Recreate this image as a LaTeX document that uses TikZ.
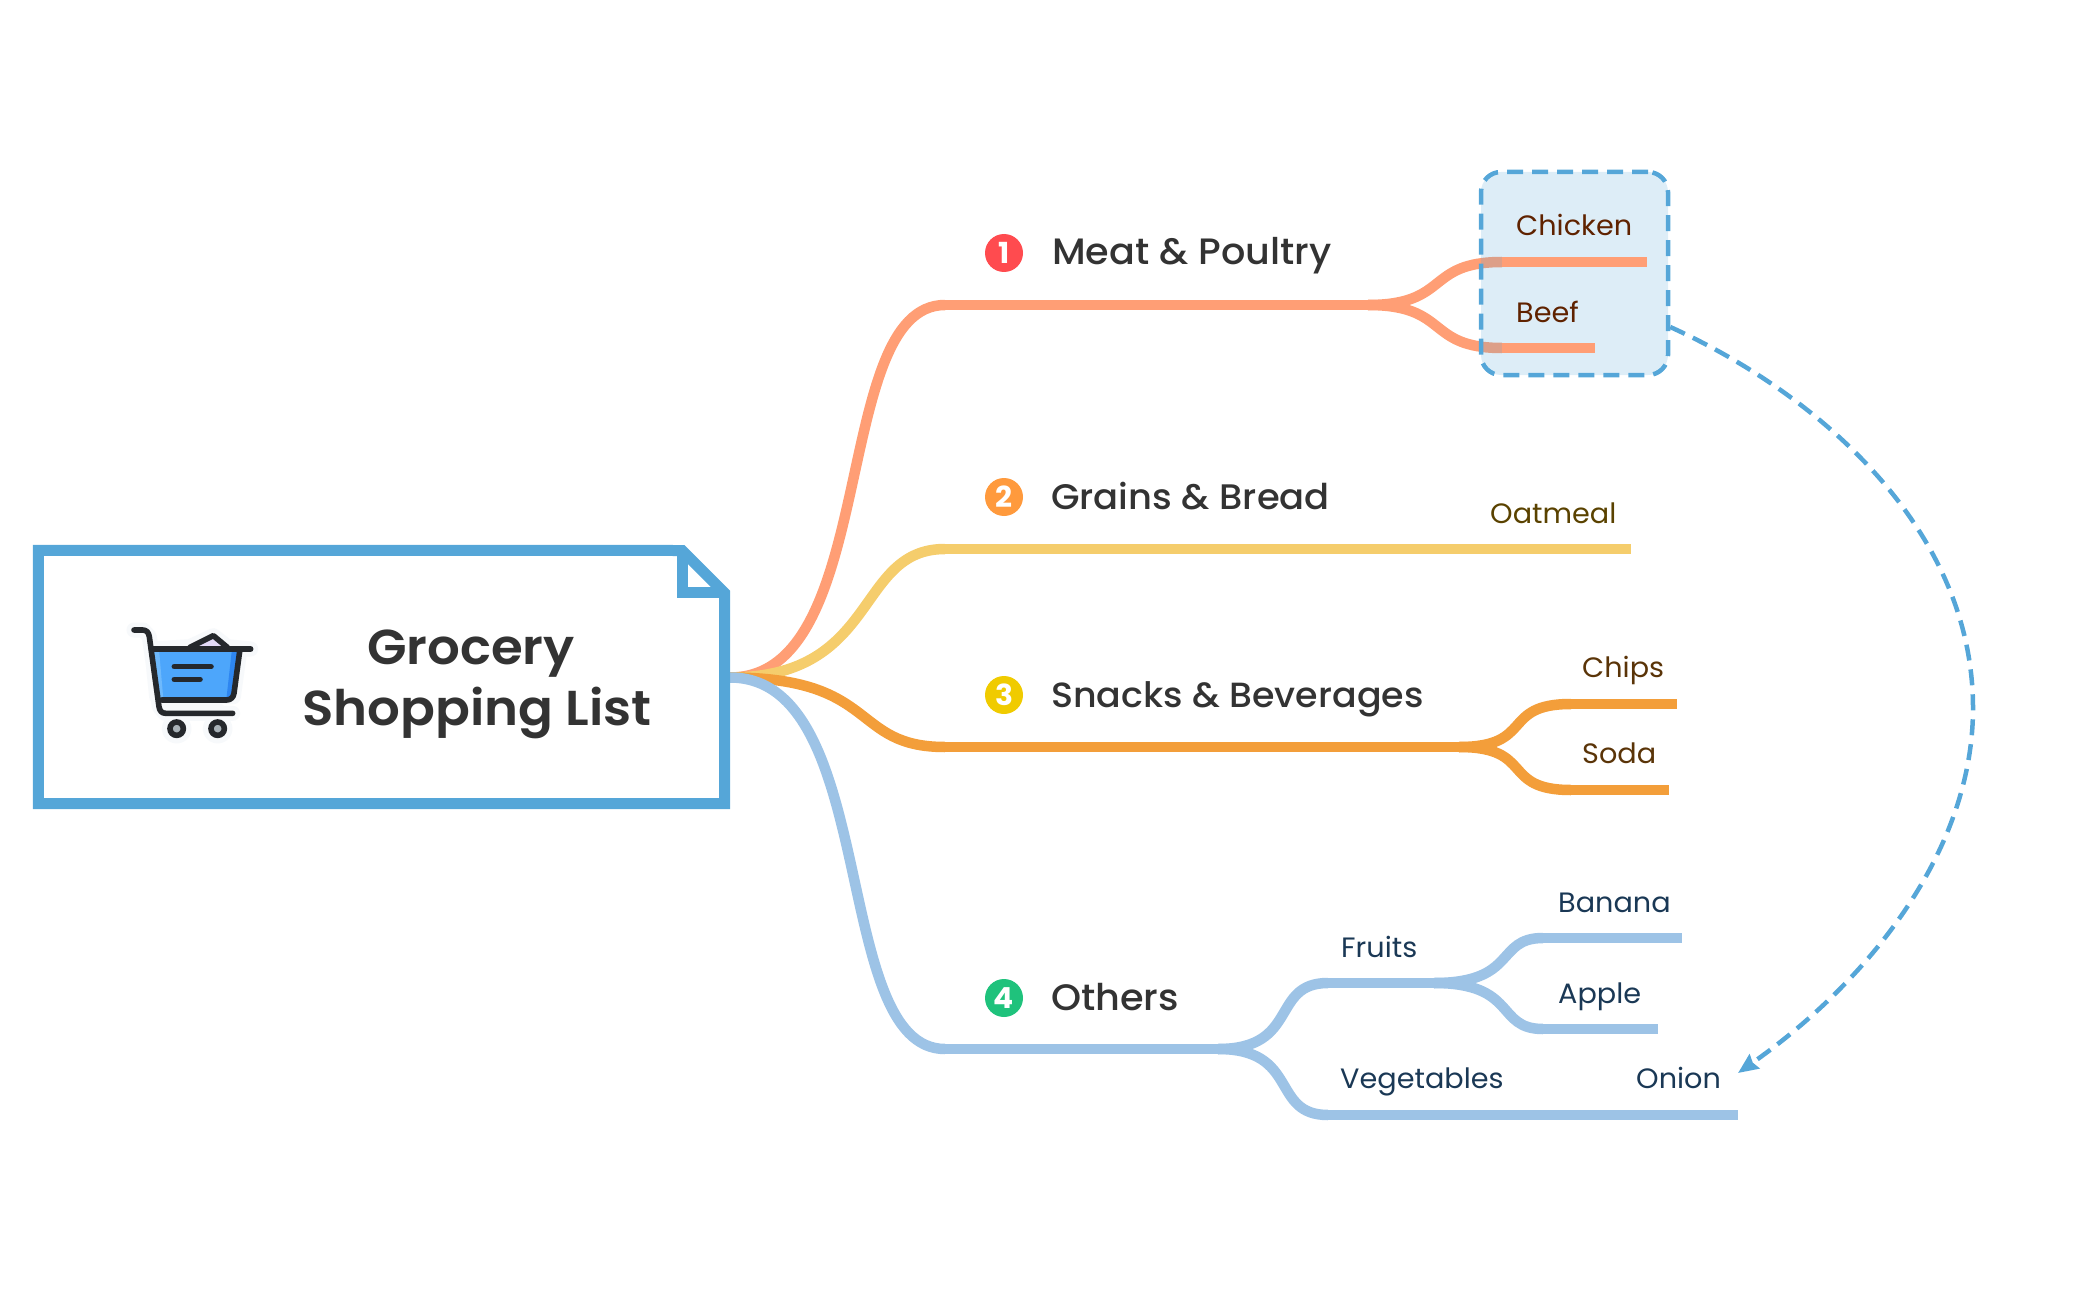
\documentclass[tikz,border=0pt]{standalone}
\usepackage{fontspec}
\setmainfont{Poppins}[FakeStretch=1.025]
\newfontfamily\pmed{Poppins Medium}[FakeStretch=1.04]
\newfontfamily\psemi{Poppins SemiBold}[FakeStretch=1.05]
\usetikzlibrary{arrows.meta}
\definecolor{rootblue}{HTML}{55A6D8}
\definecolor{cmeat}{HTML}{FF9E75}
\definecolor{cgrain}{HTML}{F5CD6C}
\definecolor{csnack}{HTML}{F39E3A}
\definecolor{cother}{HTML}{9DC3E6}
\definecolor{tmain}{HTML}{333333}
\definecolor{tmeat}{HTML}{5F2200}
\definecolor{tgrain}{HTML}{5A4200}
\definecolor{tsnack}{HTML}{5A3408}
\definecolor{tother}{HTML}{1A3855}
\definecolor{cartdark}{HTML}{25282C}
\definecolor{carthalo}{HTML}{F7F9FB}
\tikzset{
  branch/.style={line width=10.5pt,line cap=butt},
  topic/.style={font=\pmed\fontsize{#1}{36}\selectfont,text=tmain,anchor=base west,inner sep=0pt},
  leaf/.style={font=\fontsize{28}{28}\selectfont,anchor=base west,inner sep=0pt},
  title/.style={font=\psemi\fontsize{49}{49}\selectfont,text=tmain,anchor=base,inner sep=0pt},
  badge/.style={circle,minimum size=38pt,inner sep=0pt,text=white,font=\fontsize{29}{29}\selectfont\bfseries},
  cartline/.style={draw=cartdark,line width=5.6pt,line cap=round,line join=round},
}
\begin{document}
\begin{tikzpicture}[x=1pt,y=-1pt]
\useasboundingbox (0,0) rectangle (2097,1300);
\node[minimum width=686pt,minimum height=253pt,inner sep=0pt] (root) at (381.5,677) {};
\coordinate (m1) at (945,305); \coordinate (m2) at (945,549);
\coordinate (m3) at (945,747); \coordinate (m4) at (945,1049);
\coordinate (b1) at (1368,305); \coordinate (b3) at (1459,747);
\coordinate (b4) at (1218,1049);
\coordinate (f1) at (1328,983); \coordinate (f2) at (1328,1115);
\coordinate (fb) at (1434,983);
\coordinate (c1) at (1502,262); \coordinate (c2) at (1502,348);
\coordinate (s1) at (1571,704); \coordinate (s2) at (1571,790);
\coordinate (a1) at (1543,938); \coordinate (a2) at (1543,1029);
\coordinate (start) at (730,677.5);
\coordinate (arrowend) at (1738,1073);
\draw[branch,cmeat] (start) .. controls (880,677.5) and (830,305) .. (m1);
\draw[branch,cgrain] (start) .. controls (880,677.5) and (855,549) .. (m2);
\draw[branch,csnack] (start) .. controls (880,677.5) and (850,747) .. (m3);
\draw[branch,cother] (start) .. controls (880,677.5) and (830,1049) .. (m4);
\draw[branch,cmeat] (m1) -- (b1);
\draw[branch,cgrain] (m2) -- (1631,549) coordinate (oatend);
\draw[branch,csnack] (m3) -- (b3);
\draw[branch,cother] (m4) -- (b4);
\draw[branch,cmeat] (b1) .. controls (1450,305) and (1425,262) .. (c1);
\draw[branch,cmeat] (b1) .. controls (1450,305) and (1425,348) .. (c2);
\draw[branch,csnack] (b3) .. controls (1535,747) and (1500,704) .. (s1);
\draw[branch,csnack] (b3) .. controls (1535,747) and (1500,790) .. (s2);
\draw[branch,cother] (b4) .. controls (1300,1049) and (1270,983) .. (f1);
\draw[branch,cother] (b4) .. controls (1300,1049) and (1270,1115) .. (f2);
\draw[branch,cother] (f1) -- (fb);
\draw[branch,cother] (fb) .. controls (1518,983) and (1495,938) .. (a1);
\draw[branch,cother] (fb) .. controls (1518,983) and (1495,1029) .. (a2);
\draw[branch,cother] (a1) -- (1682,938);
\draw[branch,cother] (a2) -- (1658,1029);
\draw[branch,cother] (f2) -- (1738,1115);
\draw[branch,csnack] (s1) -- (1677,704);
\draw[branch,csnack] (s2) -- (1669,790);
% dashed boundary
\node[minimum width=187pt,minimum height=203pt,inner sep=0pt,rounded corners=20pt,
  draw=rootblue,line width=4.5pt,dash pattern=on 16pt off 9pt,fill=rootblue,fill opacity=.2,draw opacity=1] (focus) at (1574.5,273.5) {};
\draw[branch,cmeat] (c1) -- (1647,262);
\draw[branch,cmeat] (c2) -- (1595,348);
\draw[rootblue,line width=4.5pt,dash pattern=on 16pt off 9pt,-{Stealth[length=20pt,width=17pt,inset=2pt]}]
  (focus.east |- 0,327) .. controls (1820,395) and (1973,530) .. (1973,708)
  .. controls (1973,850) and (1870,980) .. (arrowend);
% root note
\draw[rootblue,line width=11pt,line join=miter,fill=white]
  (root.north west) -- (682.2,550.5) -- (724.5,592.8) -- (root.south east) -- (root.south west) -- cycle;
\draw[rootblue,line width=11pt,line join=miter] (682.2,550.5) -- (682.2,592.8) -- (724.5,592.8);
% cart icon
\begin{scope}[shift={(110,610)},x=.33333pt,y=-.33333pt]
  \draw[carthalo,line width=15pt,line cap=round,line join=round,fill=carthalo]
    (72,60) -- (100,60) -- (118,80) -- (148,290) -- (165,310) -- (368,310)
    (240,110) -- (310,77) -- (352,110) -- (422,117) -- (390,117) -- (370,260) -- (140,260) -- (125,117) -- cycle
    (200,356) circle[radius=22] (323,356) circle[radius=22];
  \fill[color={rgb,255:red,227;green,218;blue,247}] (240,112) -- (310,77) -- (352,112) -- cycle;
  \draw[cartline] (240,112) -- (310,77) -- (352,112);
  \fill[color={rgb,255:red,77;green,166;blue,251}] (125,117) -- (390,117) -- (372,250) .. controls (370,262) and (362,270) .. (350,270) -- (155,270) .. controls (145,270) and (140,262) .. (138,250) -- cycle;
  \fill[color={rgb,255:red,110;green,185;blue,252}] (125,117) -- (147,117) -- (160,268) -- (150,268) -- (138,250) -- cycle;
  \fill[color={rgb,255:red,46;green,134;blue,240}] (385,117) -- (366,117) -- (349,268) -- (358,268) -- (372,250) -- cycle;
  \draw[cartline] (390,117) -- (372,250) .. controls (370,262) and (362,270) .. (350,270) -- (155,270);
  \draw[cartline] (125,117) -- (422,117);
  \draw[cartline] (72,60) -- (98,60) .. controls (110,60) and (116,68) .. (118,80) -- (147,290) .. controls (149,303) and (155,310) .. (168,310) -- (368,310);
  \draw[cartline] (193,170) -- (303,170);
  \draw[cartline] (193,208) -- (270,208);
  \foreach \cx/\wname in {200/wl,323/wr}
    \draw[cartdark,line width=5.6pt,fill={rgb,255:red,169;green,178;blue,184}] (\cx,356) circle[radius=20];
\end{scope}
% title
\node[title] (t1) at (471,664) {Grocery};
\node[title] (t2) at (477,725) {Shopping List};
% topics
\node[badge,fill={rgb,255:red,255;green,75;blue,79}] (n1) at (1004,253) {1};
\node[badge,fill={rgb,255:red,255;green,154;blue,61}] (n2) at (1004,497) {2};
\node[badge,fill={rgb,255:red,240;green,203;blue,0}] (n3) at (1004,695) {3};
\node[badge,fill={rgb,255:red,31;green,194;blue,124}] (n4) at (1004,998) {4};
\node[topic=36.7] (meat) at (1052,265) {Meat \& Poultry};
\node[topic=35.5] (grain) at (1051,509) {Grains \& Bread};
\node[topic=35] (snack) at (1051,707) {Snacks \& Beverages};
\node[topic=36.8] (other) at (1051,1010) {Others};
% leaves
\node[leaf,text=tmeat] (chicken) at (1516,236) {Chicken};
\node[leaf,text=tmeat] (beef) at (1516,322) {Beef};
\node[leaf,text=tgrain] (oat) at (1490,523) {Oatmeal};
\node[leaf,text=tsnack] (chips) at (1582,677) {Chips};
\node[leaf,text=tsnack] (soda) at (1582,763) {Soda};
\node[leaf,text=tother] (fruits) at (1341,957) {Fruits};
\node[leaf,text=tother] (banana) at (1558,912) {Banana};
\node[leaf,text=tother] (apple) at (1558,1003) {Apple};
\node[leaf,text=tother] (veg) at (1340,1088) {Vegetables};
\node[leaf,text=tother] (onion) at (1636,1088) {Onion};
\end{tikzpicture}
\end{document}
